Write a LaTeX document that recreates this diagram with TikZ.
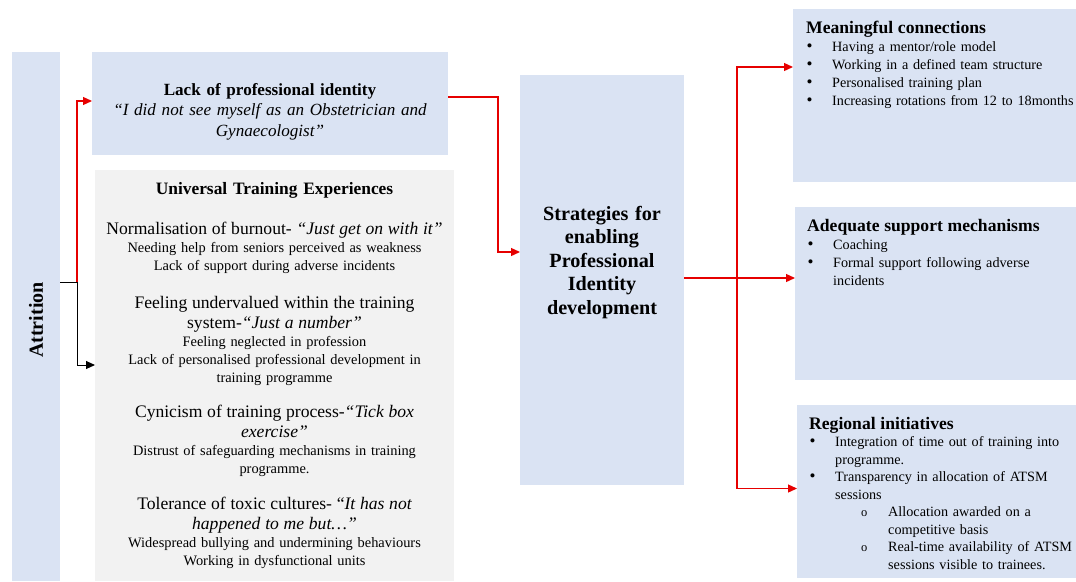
\documentclass[tikz,border=0pt]{standalone}
\usepackage{fontspec}
\setmainfont{Liberation Serif}
\usetikzlibrary{positioning,arrows.meta}

\definecolor{paleblue}{HTML}{DAE3F3}
\definecolor{palegrey}{HTML}{F2F2F2}
\definecolor{linkred}{HTML}{E60000}

\newcommand{\fs}[2]{\fontsize{#1}{#2}\selectfont}
\newcommand{\bulletline}[1]{\par\noindent\hangindent=26pt\hangafter=1\makebox[26pt][l]{\hspace{0.5pt}{\fs{17}{17}\textbullet}}#1}
\newcommand{\circline}[1]{\par\noindent\hangindent=79pt\hangafter=1\makebox[79pt][l]{\hspace{52pt}{\fs{12.5}{12.5}o}}#1}
\newcommand{\uteGroup}[2]{{\fs{17.6}{20}#1\par}{\fs{14.4}{18}#2\par}}

\begin{document}
\begin{tikzpicture}[
  x=1pt, y=-1pt,
  font=\fs{14.2}{18},
  box/.style={inner sep=0pt, outer sep=0pt},
  bluebox/.style={box, fill=paleblue},
  greybox/.style={box, fill=palegrey},
  lines/.style={inner sep=0pt, align=center, text width=#1},
  leftlines/.style={inner sep=0pt, align=left, text width=#1, anchor=north west},
  redarr/.style={-{Triangle[length=9pt,width=8pt]}, linkred, line width=1.3pt},
  blackarr/.style={-{Triangle[length=9pt,width=8pt]}, black, line width=1pt}
]
\useasboundingbox (0,0) rectangle (1076,581);

% boxes
\node[bluebox, minimum width=48pt, minimum height=529pt] (attr) at (36,316.5) {};
\node[bluebox, minimum width=356pt, minimum height=103pt] (lack) at (270,103.5) {};
\node[greybox, minimum width=359pt, minimum height=411pt] (ute) at (274.5,375.5) {};
\node[bluebox, minimum width=164pt, minimum height=410pt] (strat) at (602,280) {};
\node[bluebox, minimum width=283pt, minimum height=173pt] (mc) at (934.5,95.5) {};
\node[bluebox, minimum width=281pt, minimum height=173pt] (asm) at (935.5,293.5) {};
\node[bluebox, minimum width=279pt, minimum height=173pt] (ri) at (936.5,491.5) {};

% texts
\node[rotate=90, inner sep=0pt, font=\bfseries\fs{20}{24}] (attrText) at (36,320) {Attrition};

\node[lines=356pt, anchor=north, font=\fs{17.1}{20.5}] (lackText) at (270,83)
  {{\bfseries Lack of professional identity}\\
   {\itshape “I did not see myself as an Obstetrician and\\ Gynaecologist”}};

\node[lines=355pt, anchor=north, font=\bfseries\fs{17.4}{19}] (uteTitle) at (274.5,182)
  {Universal Training Experiences};
\node[lines=355pt, anchor=north] (grpBurnout) at (274.5,221.8)
  {\uteGroup{Normalisation of burnout- {\itshape “Just get on with it”}}
            {Needing help from seniors perceived as weakness\\ Lack of support during adverse incidents}};
\node[lines=355pt, anchor=north] (grpUndervalued) at (274.5,295.8)
  {\uteGroup{Feeling undervalued within the training\\ system-{\itshape “Just a number”}}
            {Feeling neglected in profession\\ Lack of personalised professional development in\\ training programme}};
\node[lines=355pt, anchor=north] (grpCynicism) at (274.5,404.8)
  {\uteGroup{Cynicism of training process-{\itshape “Tick box\\ exercise”}}
            {Distrust of safeguarding mechanisms in training\\ programme.}};
\node[lines=355pt, anchor=north] (grpToxic) at (274.5,496.8)
  {\uteGroup{Tolerance of toxic cultures- “{\itshape It has not\\ happened to me but…”}}
            {Widespread bullying and undermining behaviours\\ Working in dysfunctional units}};

\node[lines=164pt, anchor=north, font=\bfseries\fs{20.2}{23.5}] (stratText) at (602,205.9)
  {Strategies for\\ enabling\\ Professional\\ Identity\\ development};

\node[leftlines=300pt] (mcText) at (806,20.8)
  {{\bfseries\fs{17.6}{19}Meaningful connections\par}
   \bulletline{Having a mentor/role model}
   \bulletline{Working in a defined team structure}
   \bulletline{Personalised training plan}
   \bulletline{Increasing rotations from 12 to 18months}\par};
\node[leftlines=300pt] (asmText) at (807,218.8)
  {{\bfseries\fs{17.6}{19}Adequate support mechanisms\par}
   \bulletline{Coaching}
   \bulletline{Formal support following adverse\newline incidents}\par};
\node[leftlines=300pt, font=\fs{14.2}{17.5}] (riText) at (809,416.8)
  {{\bfseries\fs{17.6}{19}Regional initiatives\par}
   \bulletline{Integration of time out of training into\newline programme.}
   \bulletline{Transparency in allocation of ATSM\newline sessions}
   \circline{Allocation awarded on a\newline competitive basis}
   \circline{Real-time availability of ATSM\newline sessions visible to trainees.}\par};

% connectors
\coordinate (attrSplit) at (77,282);
\coordinate (stratSplit) at (737,278);
\draw[black, line width=1pt] (attr.east |- attrSplit) -- (attrSplit);
\draw[redarr] (attrSplit) |- ([yshift=2.5pt]lack.west);
\draw[blackarr] (attrSplit) |- ([yshift=10.5pt]ute.west);
\draw[redarr] ([yshift=6.5pt]lack.east) -- ++(50,0) |- ([yshift=28pt]strat.west);
\draw[redarr] ([yshift=2pt]strat.east) -- (asm.west |- stratSplit);
\draw[redarr] (stratSplit) |- ([yshift=28.5pt]mc.west);
\draw[redarr] (stratSplit) |- ([yshift=3pt]ri.west);

\end{tikzpicture}
\end{document}
